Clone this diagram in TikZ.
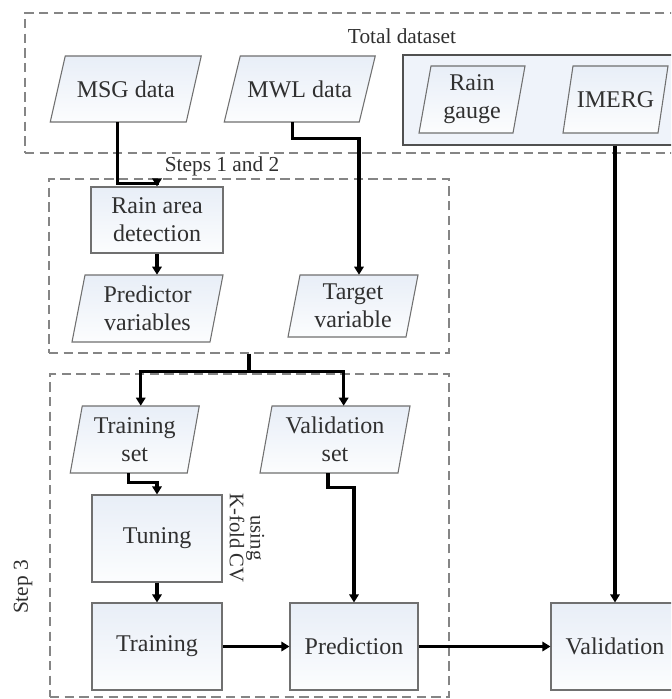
\documentclass[tikz,border=0pt]{standalone}
\usepackage{fontspec}
\setmainfont{Liberation Serif}
\usetikzlibrary{arrows.meta,calc}
\definecolor{edgegray}{HTML}{707070}
\definecolor{dashgray}{HTML}{858585}
\definecolor{boxtop}{HTML}{E8EEF7}
\definecolor{boxbot}{HTML}{FCFDFE}
\definecolor{contfill}{HTML}{EFF3FA}
\definecolor{contedge}{HTML}{505050}
\definecolor{txtgray}{HTML}{303030}
\newcommand{\paranode}[7]{%
  \draw[parashape] ({#2-#4/2+#6/2},{#3-#5/2}) -- ({#2+#4/2+#6/2},{#3-#5/2}) -- ({#2+#4/2-#6/2},{#3+#5/2}) -- ({#2-#4/2-#6/2},{#3+#5/2}) -- cycle;
  \node[paratext, minimum width={#4*0.75pt}, minimum height={#5*0.75pt}] (#1) at (#2,#3) {#7};}
\tikzset{
  boxfont/.style={font=\fontsize{18pt}{21pt}\selectfont, text=txtgray, align=center},
  procbox/.style={boxfont, draw=edgegray, line width=0.8pt, top color=boxtop, bottom color=boxbot, minimum width=97.5pt, minimum height=65.25pt, inner sep=0pt},
  parashape/.style={draw=edgegray, line width=0.8pt, top color=boxtop, bottom color=boxbot},
  paratext/.style={boxfont, inner sep=0pt},
  dashbox/.style={draw=dashgray, line width=0.8pt, dash pattern=on 7pt off 4pt, inner sep=0pt},
  conn/.style={line width=2.3pt, -{Triangle[length=6pt,width=7pt]}, black},
  plainconn/.style={line width=2.3pt, black},
  lbl/.style={font=\fontsize{16pt}{17pt}\selectfont, text=txtgray, align=center},
  contbox/.style={draw=contedge, line width=1.1pt, fill=contfill, inner sep=0pt}
}
\begin{document}
\begin{tikzpicture}[x=0.75pt,y=-0.75pt]
\clip (0,0) rectangle (671,699);
\fill[white] (0,0) rectangle (671,699);
% group boxes
\node[dashbox, minimum width=506.25pt, minimum height=105pt] (tot) at (362.5,83) {};
\node[dashbox, minimum width=300pt, minimum height=130.5pt] (s12) at (249,266) {};
\node[dashbox, minimum width=299.25pt, minimum height=242.25pt] (s3) at (249.5,535.5) {};
% labels
\node[lbl] (ltot) at (402,36) {Total dataset};
\node[lbl] (l12) at (222,166) {Steps 1 and 2};
\node[lbl, rotate=90] (l3) at (23,587) {Step 3};
\node[lbl, rotate=-90, font=\fontsize{15.5pt}{15.5pt}\selectfont] (lcv) at (247,538) {using\\K-fold CV};
% data
\node[contbox, minimum width=215.25pt, minimum height=67.5pt] (cont) at (546.5,100) {};
\paranode{msg}{125.75}{89}{136}{66}{15}{MSG data}
\paranode{mwl}{299.75}{89}{135}{66}{16}{MWL data}
\paranode{rg}{472}{99.5}{94}{67}{12}{Rain\\gauge}
\paranode{imerg}{615.5}{99.5}{95}{67}{10}{IMERG}
% steps 1 and 2
\node[procbox, minimum width=99pt, minimum height=49.5pt] (rad) at (157,220) {Rain area\\detection};
\paranode{pv}{147.5}{308.5}{138}{67}{13}{Predictor\\variables}
\paranode{tv}{353}{306}{118}{62}{12}{Target\\variable}
% step 3
\paranode{ts}{134.75}{439.5}{117}{67}{12}{Training\\set}
\paranode{vs}{335}{439.5}{138}{67}{12}{Validation\\set}
\node[procbox] (tun) at (157,538.5) {Tuning};
\node[procbox] (trn) at (157,646.5) {Training};
\node[procbox, minimum width=96pt] (prd) at (354,646.5) {Prediction};
\node[procbox, minimum width=96pt] (val) at (615,646.5) {Validation};
% connectors
\draw[conn] ([xshift=-6pt]msg.south) -- ++(0,61) -| (rad.north);
\draw[conn] ([xshift=-5.25pt]mwl.south) -- ++(0,16) -| ([xshift=4.5pt]tv.north);
\draw[conn] (rad.south) -- (rad.south |- pv.north);
\coordinate (split) at ($(s12.south)+(0,18)$);
\draw[plainconn] (s12.south) -- (split);
\draw[conn] (split) -| ([xshift=4.5pt]ts.north);
\draw[conn] (split) -| ([xshift=6.5pt]vs.north);
\draw[conn] ([xshift=-5pt]ts.south) -- ++(0,9) -| (tun.north);
\draw[conn] (tun.south) -- (trn.north);
\draw[conn] (trn.east) -- (prd.west);
\draw[conn] ([xshift=-5.25pt]vs.south) -- ++(0,14) -| (prd.north);
\draw[conn] (prd.east) -- (val.west);
\draw[conn] (cont.south -| val.north) -- (val.north);
\end{tikzpicture}
\end{document}
